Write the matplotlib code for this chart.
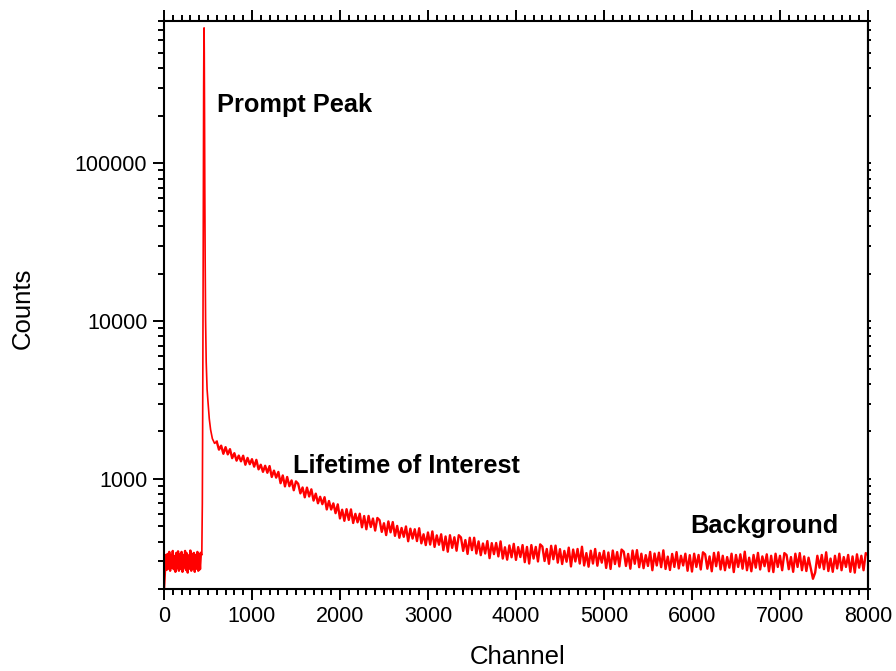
import matplotlib
matplotlib.use("Agg")
import matplotlib.pyplot as plt
import numpy as np
from matplotlib.ticker import FixedLocator, LogLocator, FuncFormatter, NullFormatter

plt.rcParams["font.family"] = ["Liberation Sans", "DejaVu Sans"]

# flat part before the prompt peak
pre_channel = list(range(0, 421, 10))
pre_counts = [195, 250, 330, 265, 335, 270, 345, 262, 330, 275, 350,
              268, 325, 258, 340, 272, 348, 262, 332, 270, 345, 258,
              330, 275, 350, 265, 338, 255, 328, 270, 352, 262, 335,
              272, 340, 258, 330, 270, 345, 262, 335, 268, 340]

# prompt peak
peak_channel = [430, 436, 440, 444, 448, 451, 454, 456, 458, 461, 464,
                468, 473, 480, 490, 500, 515, 530, 550, 575]
peak_counts = [330, 700, 2500, 12000, 70000, 300000, 650000, 720000, 500000,
               200000, 70000, 25000, 10000, 5500, 3700, 3100, 2400, 2050,
               1800, 1680]

# lifetime decay and background
tail_channel = list(range(600, 8001, 25))
tail_counts = [
    1722, 1533, 1625, 1443, 1590, 1431, 1544, 1354, 1456, 1306,
    1406, 1293, 1403, 1230, 1359, 1240, 1334, 1196, 1321, 1150,
    1230, 1109, 1212, 1094, 1207, 1029, 1129, 1019, 1108, 940,
    1052, 897, 1029, 899, 979, 848, 965, 932, 810, 883,
    765, 881, 774, 859, 729, 807, 701, 771, 692, 766,
    641, 725, 640, 700, 607, 690, 562, 638, 543, 643,
    550, 641, 526, 601, 531, 602, 494, 582, 480, 583,
    496, 561, 471, 566, 548, 462, 524, 441, 538, 459,
    533, 436, 504, 424, 489, 430, 500, 403, 484, 419,
    480, 404, 487, 391, 446, 381, 458, 384, 465, 371,
    439, 383, 446, 354, 432, 346, 440, 366, 427, 351,
    440, 426, 350, 410, 335, 424, 354, 424, 337, 402,
    329, 390, 337, 404, 315, 392, 334, 393, 323, 402,
    313, 369, 308, 379, 319, 388, 307, 370, 320, 381,
    297, 371, 291, 381, 313, 371, 300, 385, 373, 302,
    360, 290, 377, 310, 378, 295, 359, 289, 350, 299,
    367, 279, 357, 300, 360, 291, 372, 283, 339, 278,
    351, 291, 360, 282, 340, 295, 350, 273, 342, 269,
    352, 289, 344, 279, 357, 346, 281, 335, 270, 352,
    290, 354, 276, 336, 272, 329, 281, 345, 264, 337,
    283, 341, 276, 353, 269, 322, 265, 335, 277, 344,
    271, 326, 283, 336, 262, 329, 259, 336, 277, 330,
    267, 343, 333, 270, 323, 260, 340, 280, 343, 267,
    326, 264, 320, 274, 336, 257, 330, 277, 333, 270,
    346, 264, 317, 260, 330, 274, 340, 267, 323, 280,
    333, 260, 326, 257, 336, 277, 326, 264, 339, 330,
    268, 320, 258, 336, 277, 339, 264, 323, 261, 317,
    271, 233, 255, 326, 274, 330, 268, 343, 261, 313,
    258, 326, 271, 336, 264, 320, 277, 330, 258, 323,
    255, 333, 274, 326, 264, 339, 330,
]

fig = plt.figure(figsize=(8.96, 6.71), dpi=100)
ax = fig.add_axes([0.1830, 0.1218, 0.7857, 0.8474])

red = "#ff0000"
# noisy parts drawn a bit heavier than the narrow peak; segments share end points
ax.plot(pre_channel, pre_counts, color=red, linewidth=1.7)
ax.plot(pre_channel[-1:] + peak_channel + tail_channel[:1],
        pre_counts[-1:] + peak_counts + tail_counts[:1], color=red, linewidth=1.2)
ax.plot(tail_channel, tail_counts, color=red, linewidth=1.7)

ax.set_yscale("log")
ax.set_xlim(0, 8000)
ax.set_ylim(200, 8.0e5)

ax.xaxis.set_major_locator(FixedLocator(np.arange(0, 8001, 1000)))
ax.xaxis.set_minor_locator(FixedLocator(np.arange(0, 8001, 100)))
ax.yaxis.set_major_locator(LogLocator(base=10))
ax.yaxis.set_minor_locator(LogLocator(base=10, subs=np.arange(2, 10)))
ax.yaxis.set_major_formatter(FuncFormatter(lambda v, p: "%d" % round(v)))
ax.yaxis.set_minor_formatter(NullFormatter())

for s in ax.spines.values():
    s.set_linewidth(1.5)

ax.tick_params(which="both", direction="out", width=1.4, top=True, right=False,
               labelsize=15.5, pad=4)
ax.tick_params(which="major", length=8)
ax.tick_params(which="minor", length=4.5)

# right side only carries very short marks
sec = ax.secondary_yaxis("right")
sec.yaxis.set_major_locator(LogLocator(base=10))
sec.yaxis.set_minor_locator(LogLocator(base=10, subs=np.arange(2, 10)))
sec.yaxis.set_major_formatter(NullFormatter())
sec.yaxis.set_minor_formatter(NullFormatter())
sec.tick_params(which="both", direction="out", length=2, width=1.4)
sec.spines["right"].set_linewidth(1.5)

ax.set_xlabel("Channel", fontsize=18.5)
ax.set_ylabel("Counts", fontsize=18.5)
ax.xaxis.set_label_coords(0.503, -0.119)
ax.xaxis.label.set_va("center")
ax.yaxis.set_label_coords(-0.200, 0.495)
ax.yaxis.label.set_va("center")

ax.text(601, 2.33e5, "Prompt Peak", fontsize=18.3, fontweight="bold",
        ha="left", va="center")
ax.text(1464, 1208, "Lifetime of Interest", fontsize=18.3, fontweight="bold",
        ha="left", va="center")
ax.text(5980, 504, "Background", fontsize=18.3, fontweight="bold",
        ha="left", va="center")

fig.savefig("out.png", dpi=100)
